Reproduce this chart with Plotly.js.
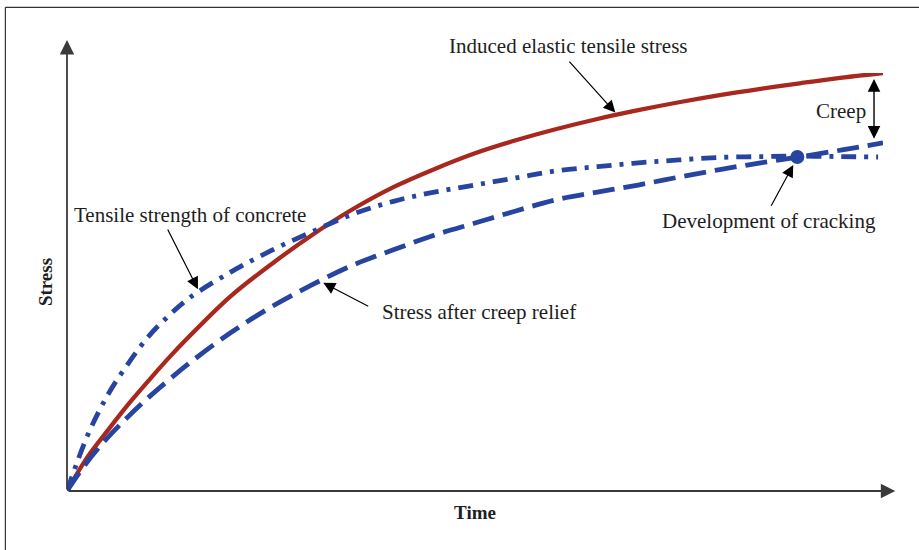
<!DOCTYPE html>
<html>
<head>
<meta charset="utf-8">
<script src="https://cdn.plot.ly/plotly-3.0.1.min.js"></script>
<style>
  html, body { margin: 0; padding: 0; background: #fff; }
  #chart { width: 919px; height: 550px; }
</style>
</head>
<body>
<div id="chart"></div>
<script>
// ---- Data (time and stress in relative units) ----
const timeInduced   = [0, 2.5, 5, 7.5, 10, 12.5, 15, 20, 25, 30, 35, 40, 45, 50, 55, 60, 65, 70, 75, 80, 85, 90, 95, 100];
const stressInduced = [0, 8.1, 14.5, 20.7, 26.4, 31.9, 37.0, 46.5, 54.2, 61.2, 67.4, 72.7, 77.0, 80.8, 83.9, 86.6, 89.0, 91.1, 93.0, 94.7, 96.2, 97.6, 98.9, 100];

const timeStrength   = [0, 2.5, 5, 7.5, 10, 12.5, 15, 20, 25, 30, 35, 40, 45, 50, 55, 60, 65, 70, 75, 80, 85, 90, 95, 99.4];
const stressStrength = [0, 13.2, 23.0, 30.5, 37.0, 42.0, 46.2, 52.3, 57.5, 62.0, 66.2, 69.3, 71.5, 73.2, 74.9, 76.6, 77.6, 78.5, 79.2, 79.8, 80.0, 80.1, 80.0, 79.9];

const timeRelief   = [0, 2.5, 5, 7.5, 10, 12.5, 15, 20, 25, 30, 35, 40, 45, 50, 55, 60, 65, 70, 75, 80, 85, 90, 95, 100];
const stressRelief = [0, 7.0, 12.8, 17.8, 22.4, 26.6, 30.6, 37.8, 44.0, 49.3, 54.0, 57.7, 61.2, 64.1, 67.0, 69.7, 71.5, 73.2, 75.1, 76.9, 78.5, 80.0, 81.6, 83.3];

const crackTime   = [89.5];
const crackStress = [79.9];

const labels = {
  induced: 'Induced elastic tensile stress',
  strength: 'Tensile strength of concrete',
  relief: 'Stress after creep relief',
  cracking: 'Development of cracking',
  creep: 'Creep',
  xTitle: 'Time',
  yTitle: 'Stress'
};

// ---- helpers ----
function interp(xs, ys, x) {
  for (let i = 1; i < xs.length; i++) {
    if (x <= xs[i]) {
      const f = (x - xs[i - 1]) / (xs[i] - xs[i - 1]);
      return ys[i - 1] + f * (ys[i] - ys[i - 1]);
    }
  }
  return ys[ys.length - 1];
}

const RED = '#a8281d';
const BLUE = '#2644a0';
const FONT = 'Liberation Serif, Times New Roman, serif';
const TXT = '#1e1e1e';

const traces = [
  {
    x: timeInduced, y: stressInduced, mode: 'lines', name: labels.induced,
    line: { color: RED, width: 4.3, shape: 'spline', smoothing: 1 }, cliponaxis: false
  },
  {
    x: timeStrength, y: stressStrength, mode: 'lines', name: labels.strength,
    line: { color: BLUE, width: 4.8, shape: 'spline', smoothing: 1, dash: '15px,8px,4px,8px' }, cliponaxis: false
  },
  {
    x: timeRelief, y: stressRelief, mode: 'lines', name: labels.relief,
    line: { color: BLUE, width: 4.8, shape: 'spline', smoothing: 1, dash: '22px,9px' }, cliponaxis: false
  },
  {
    x: crackTime, y: crackStress, mode: 'markers', name: labels.cracking,
    marker: { color: BLUE, size: 14 }, cliponaxis: false
  }
];

function arrow(tx, ty, hx, hy, opts) {
  return Object.assign({
    x: hx, y: hy, ax: tx, ay: ty, xref: 'x', yref: 'y', axref: 'x', ayref: 'y',
    text: '', showarrow: true, arrowhead: 2, arrowsize: 2, arrowwidth: 1.2, arrowcolor: '#000'
  }, opts || {});
}
function label(text, x, y, xanchor, yref) {
  return { x: x, y: y, xref: 'x', yref: yref || 'y', text: text, showarrow: false,
           xanchor: xanchor || 'center', yanchor: 'middle',
           font: { family: FONT, size: 21, color: TXT } };
}

const xTip = 101.5, yTip = 107.9;
const creepT = 98.9;

const annotations = [
  // axes with arrowheads
  arrow(0, 0, 0, yTip, { arrowwidth: 1.8, arrowsize: 1.6, arrowcolor: '#3a3a3a' }),
  arrow(0, 0, xTip, 0, { arrowwidth: 1.8, arrowsize: 1.6, arrowcolor: '#3a3a3a' }),
  // labels
  label(labels.induced, 61.4, 1.065, 'center', 'paper'),
  label(labels.strength, 0.6, 66.0, 'left'),
  label(labels.relief, 38.4, 42.8, 'left'),
  label(labels.cracking, 86.0, 64.6),
  label(labels.creep, 94.9, 90.9),
  // pointer arrows
  arrow(61.4, 103.1, 67.2, interp(timeInduced, stressInduced, 67.2) + 0.6),
  arrow(12.25, 62.9, 16.05, interp(timeStrength, stressStrength, 16.05) + 0.8),
  arrow(37.1, 44.0, 31.4, interp(timeRelief, stressRelief, 31.4) - 0.8),
  arrow(86.2, 67.9, 89.0, crackStress[0] - 1.9),
  // creep double arrow
  arrow(creepT, interp(timeRelief, stressRelief, creepT) + 1.0,
        creepT, interp(timeInduced, stressInduced, creepT) - 1.2,
        { arrowside: 'end+start', arrowwidth: 1.4, arrowsize: 1.8 })
];

const layout = {
  width: 919, height: 550,
  margin: { l: 67, r: 36, t: 73, b: 59, pad: 0 },
  paper_bgcolor: '#fff', plot_bgcolor: '#fff',
  showlegend: false,
  xaxis: {
    range: [0, 100], showgrid: false, zeroline: false, showline: false,
    showticklabels: false, ticks: '', fixedrange: true,
    title: { text: '<b>' + labels.xTitle + '</b>', font: { family: FONT, size: 19, color: TXT }, standoff: 14 }
  },
  yaxis: {
    range: [0, 100], showgrid: false, zeroline: false, showline: false,
    showticklabels: false, ticks: '', fixedrange: true,
    title: { text: '<b>' + labels.yTitle + '</b>', font: { family: FONT, size: 19, color: TXT }, standoff: 8 }
  },
  annotations: annotations,
  shapes: [
    { type: 'line', xref: 'paper', yref: 'paper', x0: -0.0755, x1: -0.0755, y0: -0.3, y1: 1.157,
      line: { color: '#333', width: 1.2 } },
    { type: 'line', xref: 'paper', yref: 'paper', x0: -0.0755, x1: 1.2, y0: 1.157, y1: 1.157,
      line: { color: '#333', width: 1.2 } }
  ]
};

Plotly.newPlot('chart', traces, layout, { staticPlot: true, displayModeBar: false });
</script>
</body>
</html>
